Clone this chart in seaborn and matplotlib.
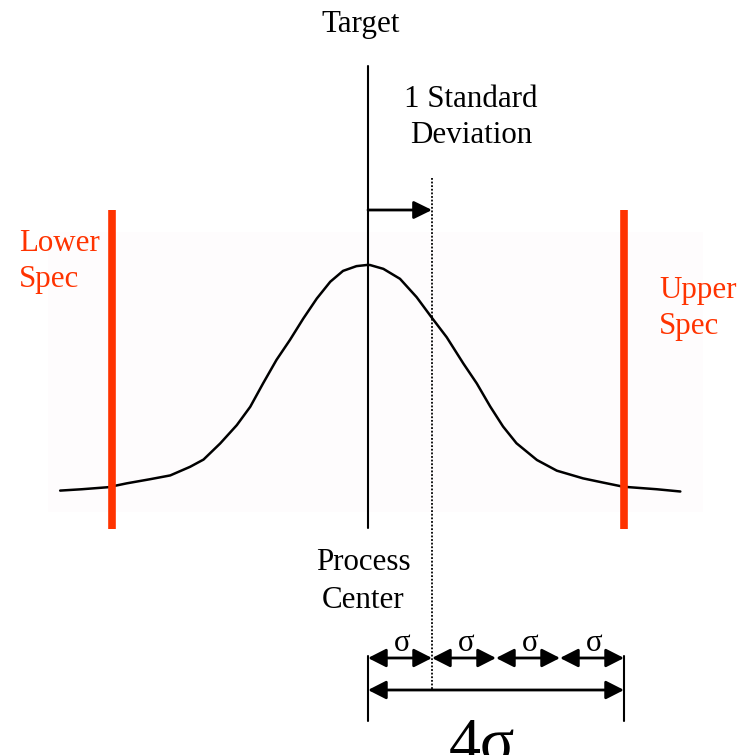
import numpy as np
import pandas as pd
import matplotlib
matplotlib.use("Agg")
import matplotlib.pyplot as plt
from matplotlib.patches import Rectangle
import seaborn as sns

sns.set_style("white")
plt.rcParams['font.family'] = ['Liberation Serif', 'DejaVu Serif']
plt.rcParams['text.color'] = 'black'

# curve: x in sigma units from target, y relative to peak
curve_x = [-4.81, -4.47, -4.06, -3.77, -3.41, -3.09, -2.78, -2.57, -2.31, -2.05,
           -1.84, -1.64, -1.43, -1.22, -1.01, -0.80, -0.59, -0.39, -0.18, -0.02,
           0.03, 0.24, 0.50, 0.76, 0.99, 1.23, 1.49, 1.70, 1.91, 2.11,
           2.32, 2.64, 2.95, 3.36, 3.68, 3.99, 4.51, 4.88]
curve_y = [0.004, 0.010, 0.019, 0.036, 0.054, 0.071, 0.109, 0.141, 0.212, 0.293,
           0.374, 0.477, 0.581, 0.669, 0.764, 0.852, 0.926, 0.974, 0.995, 1.0,
           1.0, 0.983, 0.939, 0.858, 0.770, 0.681, 0.565, 0.477, 0.375, 0.287,
           0.213, 0.139, 0.092, 0.058, 0.039, 0.021, 0.010, 0.0]

target = 0
spec_limits = [-4, 4]
sigma_steps = [0, 1, 2, 3, 4]
sigma_label = "\u03c3"
total_label = "4\u03c3"

RED = "#FF3300"

# pixel -> data helpers (layout only)
def px(x):
    return (x - 368) / 64.0

def py(y):
    return (491.5 - y) / 226.5

fig = plt.figure(figsize=(7.43, 7.55), dpi=100)
ax = fig.add_axes([0, 0, 1, 1])
ax.set_xlim(px(0), px(743))
ax.set_ylim(py(755), py(0))
ax.axis("off")

# very faint background panel
ax.add_patch(Rectangle((px(48), py(512)), px(703) - px(48), py(232) - py(512),
                       facecolor="#fefcfd", edgecolor="none", zorder=0))

df = pd.DataFrame({"x": curve_x, "y": curve_y})
sns.lineplot(data=df, x="x", y="y", ax=ax, color="black", lw=1.8,
             estimator=None, zorder=3)

fs = 22.3

# target line
ax.plot([target, target], [py(66), py(528)], color="black", lw=1.5, zorder=4)
ax.text(px(361), py(32), "Target", ha="center", va="baseline", fontsize=fs)
ax.text(px(363), py(570), "Process", ha="center", va="baseline", fontsize=fs)
ax.text(px(363), py(608), "Center", ha="center", va="baseline", fontsize=fs)

# one sigma marker
one_sd = sigma_steps[1]
ax.plot([one_sd, one_sd], [py(178), py(690)], color="black", lw=1.3,
        ls=(0, (1.0, 1.0)), zorder=4)
ax.annotate("", xy=(one_sd, py(210)), xytext=(target, py(210)),
            arrowprops=dict(arrowstyle="-|>,head_length=0.55,head_width=0.27",
                            mutation_scale=20, color="black", lw=2,
                            shrinkA=0, shrinkB=0))
ax.text(px(471), py(107), "1 Standard", ha="center", va="baseline", fontsize=fs)
ax.text(px(471), py(143), "Deviation", ha="center", va="baseline", fontsize=fs)

# spec limits
for s in spec_limits:
    ax.plot([s, s], [py(210), py(529)], color=RED, lw=5.5, zorder=5,
            solid_capstyle="butt")
ax.text(px(19), py(251), "Lower", ha="left", va="baseline", fontsize=fs, color=RED)
ax.text(px(19), py(287), "Spec", ha="left", va="baseline", fontsize=fs, color=RED)
ax.text(px(659), py(298), "Upper", ha="left", va="baseline", fontsize=fs, color=RED)
ax.text(px(659), py(334), "Spec", ha="left", va="baseline", fontsize=fs, color=RED)

# sigma ruler
for s in [sigma_steps[0], sigma_steps[-1]]:
    ax.plot([s, s], [py(656), py(721)], color="black", lw=1.5)
for a, b in zip(sigma_steps[:-1], sigma_steps[1:]):
    ax.annotate("", xy=(b, py(658)), xytext=(a, py(658)),
                arrowprops=dict(arrowstyle="<|-|>,head_length=0.55,head_width=0.28",
                                mutation_scale=20, color="black", lw=2,
                                shrinkA=0, shrinkB=0))
    ax.text((a + b) / 2 + px(370) - px(368), py(651), sigma_label, ha="center",
            va="baseline", fontsize=fs)
ax.annotate("", xy=(sigma_steps[-1], py(690)), xytext=(sigma_steps[0], py(690)),
            arrowprops=dict(arrowstyle="<|-|>,head_length=0.55,head_width=0.28",
                            mutation_scale=20, color="black", lw=2,
                            shrinkA=0, shrinkB=0))
# the reference shows this label running off the bottom edge
ax.text(px(482), py(762), total_label, ha="center", va="baseline", fontsize=46)

fig.savefig("out.png", dpi=100)
